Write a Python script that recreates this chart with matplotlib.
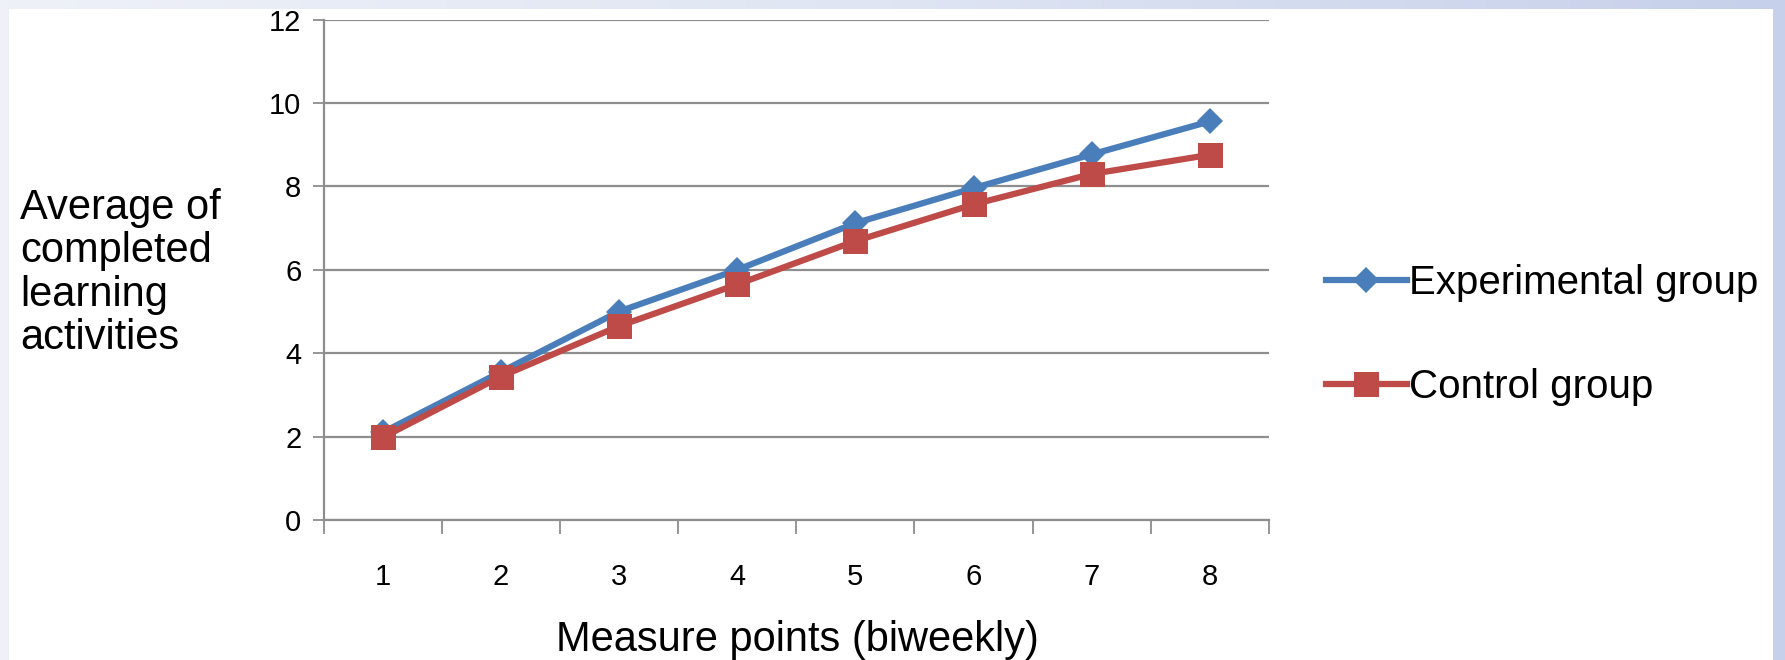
import numpy as np
import matplotlib
matplotlib.use("Agg")
import matplotlib.pyplot as plt
from matplotlib.patches import Rectangle
from matplotlib.ticker import FixedLocator, NullFormatter

plt.rcParams['font.family'] = ['Liberation Sans', 'DejaVu Sans']

points = [1, 2, 3, 4, 5, 6, 7, 8]
experimental = [2.1, 3.55, 5.0, 6.0, 7.12, 7.96, 8.77, 9.56]
control = [1.98, 3.44, 4.65, 5.65, 6.69, 7.57, 8.30, 8.76]
series_names = ["Experimental group", "Control group"]
y_ticks = [0, 2, 4, 6, 8, 10, 12]

blue = "#4a7ebb"
red = "#be4b48"
grid_gray = "#8e8e8e"

W, H = 1785, 660
fig = plt.figure(figsize=(W / 100, H / 100), dpi=100)

# slide-like background: bluish gradient frame, white panel
bg = fig.add_axes([0, 0, 1, 1], zorder=-10)
grad = np.linspace(0, 1, 256).reshape(1, -1)
cmap = matplotlib.colors.LinearSegmentedColormap.from_list("bg", ["#eef1f8", "#dfe5f3", "#c6d0ea"])
bg.imshow(grad, aspect="auto", cmap=cmap, extent=[0, 1, 0, 1])
bg.add_patch(Rectangle((9 / W, 0), (1773 - 9) / W, 1 - 9 / H, color="white", lw=0))
bg.set_xlim(0, 1)
bg.set_ylim(0, 1)
bg.axis("off")

ax = fig.add_axes([323.5 / W, 1 - 520 / H, (1269 - 323.5) / W, (520 - 19.7) / H])
ax.set_xlim(0.5, 8.5)
ax.set_ylim(0, 12)

ax.plot(points, experimental, color=blue, lw=4.5, marker="D", markersize=13.5,
        markeredgewidth=0, label=series_names[0], zorder=3)
ax.plot(points, control, color=red, lw=4.5, marker="s", markersize=18,
        markeredgewidth=0, label=series_names[1], zorder=4)

ax.set_yticks(y_ticks)
ax.yaxis.grid(True, color=grid_gray, lw=1.6)
ax.set_axisbelow(True)
ax.tick_params(axis="y", length=8, width=1.3, color=grid_gray, pad=8, labelsize=21)

ax.set_xticks(points)
ax.tick_params(axis="x", which="major", length=0, pad=31, labelsize=21)
ax.xaxis.set_minor_locator(FixedLocator(np.arange(0.5, 9.0, 1.0)))
ax.xaxis.set_minor_formatter(NullFormatter())
ax.tick_params(axis="x", which="minor", length=10, width=1.3, color=grid_gray)

for side in ["top", "right"]:
    ax.spines[side].set_visible(False)
for side in ["left", "bottom"]:
    ax.spines[side].set_color(grid_gray)
    ax.spines[side].set_linewidth(1.6)

fig.text(20 / W, 1 - 273 / H, "Average of\ncompleted\nlearning\nactivities",
         ha="left", va="center", fontsize=30, linespacing=1.1)
fig.text(797 / W, 1 - 640 / H, "Measure points (biweekly)",
         ha="center", va="center", fontsize=30)

fig.legend(loc="center left", bbox_to_anchor=(1326 / W, 1 - 335 / H), frameon=False,
           fontsize=29, handlelength=2.0, handletextpad=0.05, labelspacing=1.62,
           borderpad=0, borderaxespad=0)

fig.savefig("out.png", dpi=100)
